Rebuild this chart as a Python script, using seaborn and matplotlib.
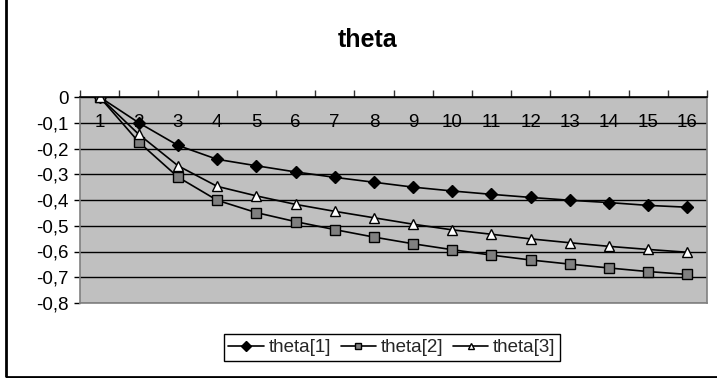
import matplotlib
matplotlib.use("Agg")
import matplotlib.pyplot as plt
import seaborn as sns
import pandas as pd
from matplotlib.patches import Rectangle

categories = list(range(1, 17))
theta1 = [0, -0.100, -0.188, -0.242, -0.267, -0.291, -0.312, -0.331, -0.350,
          -0.365, -0.378, -0.390, -0.401, -0.410, -0.421, -0.428]
theta2 = [0, -0.175, -0.311, -0.401, -0.449, -0.484, -0.515, -0.544, -0.570,
          -0.593, -0.614, -0.633, -0.649, -0.664, -0.678, -0.689]
theta3 = [0, -0.145, -0.267, -0.347, -0.384, -0.417, -0.444, -0.469, -0.494,
          -0.516, -0.533, -0.551, -0.566, -0.580, -0.592, -0.603]
series_names = ["theta[1]", "theta[2]", "theta[3]"]
yticks = [0, -0.1, -0.2, -0.3, -0.4, -0.5, -0.6, -0.7, -0.8]
ytick_labels = ["0", "-0,1", "-0,2", "-0,3", "-0,4", "-0,5", "-0,6", "-0,7", "-0,8"]
xtick_labels = [str(c) for c in categories]
title = "theta"

sns.set_theme(style="white")
plt.rcParams['font.family'] = ['Liberation Sans', 'DejaVu Sans']

fig = plt.figure(figsize=(7.17, 3.78), dpi=100)
ax = fig.add_axes([80/717, 1 - 303/378, 627/717, 206/378])
ax.set_facecolor("#C0C0C0")

styles = [
    dict(marker="D", markersize=6, markerfacecolor="black", markeredgecolor="black"),
    dict(marker="s", markersize=7, markerfacecolor="#808080", markeredgecolor="black"),
    dict(marker="^", markersize=7.5, markerfacecolor="white", markeredgecolor="black"),
]
for name, vals, st in zip(series_names, [theta1, theta2, theta3], styles):
    df = pd.DataFrame({"x": categories, "y": vals})
    sns.lineplot(data=df, x="x", y="y", ax=ax, color="black", linewidth=1.2,
                 label=name, markeredgewidth=1.0, **st)

ax.set_xlim(0.5, 16.5)
ax.set_ylim(-0.8, 0)
ax.set_xlabel("")
ax.set_ylabel("")

ax.set_yticks(yticks, ytick_labels)
ax.yaxis.grid(True, color="black", linewidth=1)
ax.set_axisbelow(True)
ax.tick_params(axis="y", which="major", left=True, direction="out", length=4,
               width=1, color="black", labelsize=13.5, pad=4, labelcolor="black")

ax.set_xticks([c + 0.5 for c in [0] + categories])
ax.set_xticks(categories, xtick_labels, minor=True)
ax.tick_params(axis="x", which="major", top=True, bottom=False, labeltop=False,
               labelbottom=False, direction="out", length=5, width=1, color="#333333")
ax.tick_params(axis="x", which="minor", top=True, bottom=False, labeltop=True,
               labelbottom=False, length=0, pad=-18.5, labelsize=13.5, labelcolor="black")
for t in ax.xaxis.get_minor_ticks():
    t.label2.set_va("center")

for side in ["left", "right", "bottom"]:
    ax.spines[side].set_color("#808080")
    ax.spines[side].set_linewidth(1.2)
ax.spines["top"].set_color("black")
ax.spines["top"].set_linewidth(1.2)

handles, labels = ax.get_legend_handles_labels()
ax.get_legend().remove()
leg = fig.legend(handles, labels, loc="center", bbox_to_anchor=(392/717, 1 - 347.5/378),
                 ncol=3, frameon=True, fancybox=False, fontsize=13.5, handlelength=1.9,
                 handletextpad=0.25, columnspacing=0.5, borderpad=0.25, borderaxespad=0,
                 edgecolor="black", framealpha=1)
leg.get_frame().set_linewidth(1.0)
for lh in leg.get_lines():
    lh.set_markersize(5)

fig.text(368/717, 1 - 40/378, title, ha="center", va="center", fontsize=18,
         fontweight="bold", color="black")

fig.patches.append(Rectangle((6/717, 1.5/378), 1.2, 1 - 1.5/378 + 0.01,
                             transform=fig.transFigure, fill=False,
                             edgecolor="black", linewidth=2, figure=fig))

fig.savefig("out.png", dpi=100)
